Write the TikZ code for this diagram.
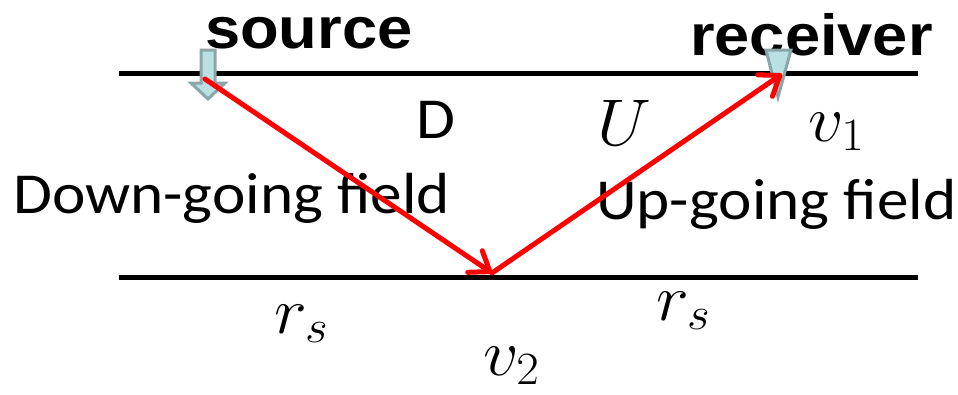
\RequirePackage{fix-cm}
\documentclass[tikz,border=0pt]{standalone}
\usepackage{fontspec}
\usepackage{graphicx}
\usetikzlibrary{arrows.meta}
\newfontfamily\arialfont[FakeStretch=1.09]{Liberation Sans}
\newfontfamily\calfont[FakeStretch=1.09]{Carlito}
\definecolor{sensfill}{HTML}{B9E1E4}
\definecolor{sensline}{HTML}{8CA5A8}
\tikzset{
  lbl/.style={inner sep=0pt, anchor=base west},
  ttl/.style={lbl, font=\arialfont\bfseries\fontsize{58}{64}\selectfont},
  txt/.style={lbl, font=\calfont\fontsize{58}{64}\selectfont},
  mth/.style={lbl, font=\fontsize{66}{72}\selectfont},
  layer/.style={line width=5pt},
  ray/.style={draw=red, line width=5pt, line cap=round, -{Straight Barb[length=18pt,width=26pt,round]}},
  sensor/.style={fill=sensfill, draw=sensline, line width=3pt, line join=miter},
}
\begin{document}
\begin{tikzpicture}[x=1pt,y=-1pt]
  \fill[white] (0,0) rectangle (958,394);
  \useasboundingbox (0,0) rectangle (958,394);
  % texts
  \node[ttl] (source) at (205,48) {source};
  \node[ttl] (receiver) at (690,55) {receiver};
  \node[txt] (D) at (416,138) {D};
  \node[txt] (down) at (13,213) {Down-going field};
  \node[txt] (up) at (596,219) {Up-going field};
  \node[mth] (U) at (597,145) {\scalebox{1.06}[1]{$U$}};
  \node[mth] (v1) at (808,141) {\scalebox{1.06}[1]{$v_1$}};
  \node[mth] (rs1) at (274,333) {\scalebox{1.06}[1]{$r_s$}};
  \node[mth] (rs2) at (656,320) {\scalebox{1.06}[1]{$r_s$}};
  \node[mth] (v2) at (483,375) {\scalebox{1.06}[1]{$v_2$}};
  % layers
  \draw[layer] (119,73) -- (918,73);
  \draw[layer] (119,277) -- (918,277);
  % source and receiver symbols
  \draw[sensor] (201,50) -- (215,50) -- (215,83) -- (225,83) -- (208,99)
     -- (191,83) -- (201,83) -- cycle;
  \draw[sensor] (766,50) -- (791,50) -- (778,97) -- cycle;
  % ray path
  \coordinate (S) at (205,79);
  \coordinate (B) at (492,273);
  \coordinate (R) at (782,74);
  \draw[ray] (S) -- (B);
  \draw[ray] (B) -- (R);
\end{tikzpicture}
\end{document}
